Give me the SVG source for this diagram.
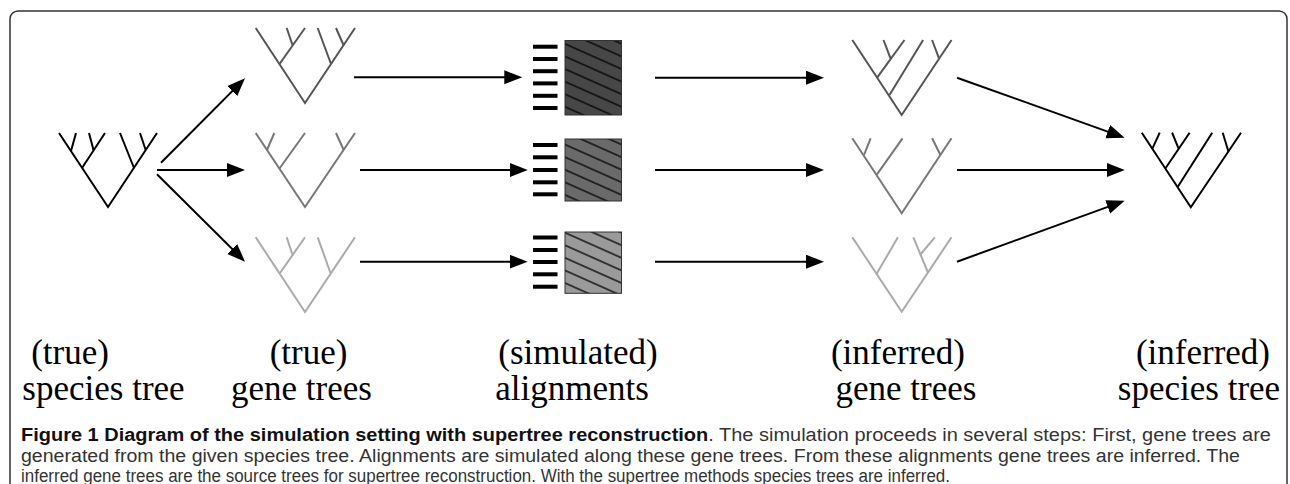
<svg xmlns="http://www.w3.org/2000/svg" width="1290" height="484" viewBox="0 0 1290 484">
<style>
.t{fill:none;stroke-width:2;stroke-linejoin:miter}
.k{stroke:#000}.d{stroke:#555}.m{stroke:#777}.l{stroke:#aaa}
.a{stroke:#000;stroke-width:2;fill:none;marker-end:url(#ah)}
.dash{fill:#000}
.box{stroke:#333;stroke-width:1}
.lab{font-family:"Liberation Serif","Times New Roman",serif;font-size:35px;fill:#000;text-anchor:middle}
.cap{font-family:"Liberation Sans",Arial,sans-serif;font-size:18px;fill:#333}
</style>
<defs>
<marker id="ah" markerUnits="userSpaceOnUse" markerWidth="20" markerHeight="16" refX="14" refY="7" orient="auto">
<path d="M0,0 L18,7 L0,14 Z" fill="#000"/>
</marker>
<pattern id="hatch" patternUnits="userSpaceOnUse" width="30" height="11.5" patternTransform="rotate(24)">
<line x1="0" y1="5.75" x2="30" y2="5.75" stroke="#000" stroke-width="1.3"/>
</pattern>
</defs>
<rect id="frame" x="10" y="11" width="1277" height="500" rx="8" fill="none" stroke="#333" stroke-width="1.5"/>

<g id="species-tree-true" class="t k">
<polyline points="59,133 108,207 157,133"/>
<line x1="76" y1="133" x2="71" y2="151"/>
<line x1="105" y1="133" x2="82" y2="168"/>
<line x1="89" y1="133" x2="93.5" y2="150"/>
<line x1="120" y1="133" x2="134" y2="168"/>
<line x1="140" y1="133" x2="145.7" y2="150"/>
</g>

<g id="gene-tree-1" class="t d">
<polyline points="255.7,28 305,103 355,28"/>
<line x1="305" y1="28" x2="279.5" y2="64"/>
<line x1="286.7" y1="28" x2="292.5" y2="45"/>
<line x1="317.7" y1="28" x2="331" y2="64"/>
<line x1="336" y1="28" x2="343.5" y2="45"/>
</g>
<g id="gene-tree-2" class="t m">
<polyline points="255.7,133 305,207 355,133"/>
<line x1="274.3" y1="133" x2="267" y2="150"/>
<line x1="305" y1="133" x2="279.5" y2="168.5"/>
<line x1="336" y1="133" x2="343.7" y2="150"/>
</g>
<g id="gene-tree-3" class="t l">
<polyline points="255.7,237.3 305,312 355,237.3"/>
<line x1="305" y1="237.3" x2="280" y2="273"/>
<line x1="286.7" y1="237.3" x2="292.3" y2="254.3"/>
<line x1="317.7" y1="237.3" x2="330.5" y2="273"/>
</g>

<g id="alignment-1">
<rect class="dash" x="533" y="44.7" width="24.5" height="4"/>
<rect class="dash" x="533" y="57" width="24.5" height="4"/>
<rect class="dash" x="533" y="69.2" width="24.5" height="4"/>
<rect class="dash" x="533" y="81.4" width="24.5" height="4"/>
<rect class="dash" x="533" y="93.8" width="24.5" height="4"/>
<rect class="dash" x="533" y="106" width="24.5" height="4"/>
<rect x="565" y="40.5" width="56.5" height="74.5" fill="#474747"/>
<rect class="box" x="565" y="40.5" width="56.5" height="74.5" fill="url(#hatch)"/>
</g>
<g id="alignment-2">
<rect class="dash" x="533" y="143" width="24.5" height="4"/>
<rect class="dash" x="533" y="155.3" width="24.5" height="4"/>
<rect class="dash" x="533" y="168" width="24.5" height="4"/>
<rect class="dash" x="533" y="180.3" width="24.5" height="4"/>
<rect class="dash" x="533" y="192.3" width="24.5" height="4"/>
<rect x="565" y="139" width="56.5" height="62" fill="#6a6a6a"/>
<rect class="box" x="565" y="139" width="56.5" height="62" fill="url(#hatch)"/>
</g>
<g id="alignment-3">
<rect class="dash" x="533" y="235.5" width="24.5" height="4"/>
<rect class="dash" x="533" y="248" width="24.5" height="4"/>
<rect class="dash" x="533" y="260" width="24.5" height="4"/>
<rect class="dash" x="533" y="272.3" width="24.5" height="4"/>
<rect class="dash" x="533" y="284.7" width="24.5" height="4"/>
<rect x="565" y="232" width="56.5" height="61.3" fill="#9a9a9a"/>
<rect class="box" x="565" y="232" width="56.5" height="61.3" fill="url(#hatch)"/>
</g>

<g id="inferred-tree-1" class="t d">
<polyline points="852.3,40 901.7,115 951.5,40"/>
<line x1="883.5" y1="40" x2="890.5" y2="58.3"/>
<line x1="904.5" y1="40" x2="877.3" y2="77.3"/>
<line x1="923.1" y1="40" x2="889.5" y2="95"/>
<line x1="932.1" y1="40" x2="939" y2="58.3"/>
</g>
<g id="inferred-tree-2" class="t m">
<polyline points="852.3,138.3 901.7,213.3 951.5,138.3"/>
<line x1="870.6" y1="138.3" x2="864" y2="155"/>
<line x1="902.5" y1="138.3" x2="877" y2="174.3"/>
<line x1="932.1" y1="138.3" x2="940.5" y2="155"/>
</g>
<g id="inferred-tree-3" class="t l">
<polyline points="852.3,237.3 901.7,311.7 951.5,237.3"/>
<line x1="897.9" y1="237.3" x2="876.5" y2="274"/>
<line x1="913.4" y1="237.3" x2="928" y2="272.7"/>
<line x1="934.8" y1="237.3" x2="920" y2="255"/>
</g>

<g id="species-tree-inferred" class="t k">
<polyline points="1141.8,132.7 1190.8,207.3 1241,132.7"/>
<line x1="1159.7" y1="132.7" x2="1152.5" y2="148.3"/>
<line x1="1172.1" y1="132.7" x2="1178.5" y2="148.3"/>
<line x1="1189.6" y1="132.7" x2="1165.5" y2="168.3"/>
<line x1="1212.2" y1="132.7" x2="1177.8" y2="186.7"/>
<line x1="1222.7" y1="132.7" x2="1228.5" y2="151.7"/>
</g>

<g id="connectors">
<line class="a" x1="161" y1="162.7" x2="242.2" y2="81.1"/>
<line class="a" x1="157" y1="170" x2="241" y2="170"/>
<line class="a" x1="157" y1="174.3" x2="242.2" y2="258.9"/>
<line class="a" x1="354" y1="77.3" x2="518.3" y2="77.3"/>
<line class="a" x1="360" y1="170" x2="523.7" y2="170"/>
<line class="a" x1="360" y1="261.7" x2="523.7" y2="261.7"/>
<line class="a" x1="655" y1="77.7" x2="820" y2="77.7"/>
<line class="a" x1="655" y1="170" x2="820" y2="170"/>
<line class="a" x1="655" y1="261.7" x2="820" y2="261.7"/>
<line class="a" x1="957" y1="77.7" x2="1120.9" y2="136.35"/>
<line class="a" x1="957" y1="170" x2="1120.7" y2="170"/>
<line class="a" x1="957" y1="261.7" x2="1120.9" y2="202.1"/>
</g>

<g id="labels">
<text class="lab" x="70" y="364">(true)</text>
<text class="lab" x="103.5" y="400">species tree</text>
<text class="lab" x="308.5" y="364">(true)</text>
<text class="lab" x="301.5" y="400">gene trees</text>
<text class="lab" x="578" y="364">(simulated)</text>
<text class="lab" x="572" y="400">alignments</text>
<text class="lab" x="898" y="364">(inferred)</text>
<text class="lab" x="906" y="400">gene trees</text>
<text class="lab" x="1203" y="364">(inferred)</text>
<text class="lab" x="1199" y="400">species tree</text>
</g>

<g id="caption">
<text class="cap" x="21" y="441" textLength="1250" lengthAdjust="spacingAndGlyphs"><tspan font-weight="bold" fill="#111">Figure 1 Diagram of the simulation setting with supertree reconstruction</tspan>. The simulation proceeds in several steps: First, gene trees are</text>
<text class="cap" x="21" y="462" textLength="1219" lengthAdjust="spacingAndGlyphs">generated from the given species tree. Alignments are simulated along these gene trees. From these alignments gene trees are inferred. The</text>
<text class="cap" x="21" y="481.5" textLength="929" lengthAdjust="spacingAndGlyphs">inferred gene trees are the source trees for supertree reconstruction. With the supertree methods species trees are inferred.</text>
</g>
</svg>
